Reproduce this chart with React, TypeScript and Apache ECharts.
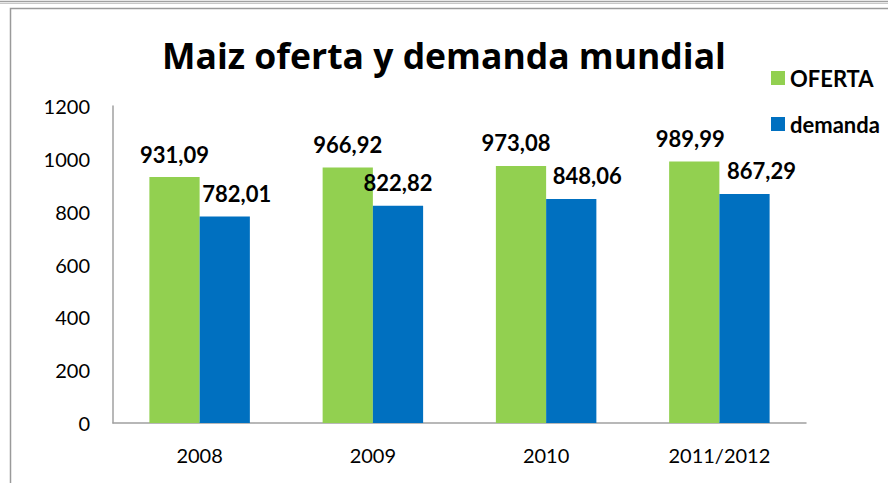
import React, { useEffect, useRef } from "react";
import * as echarts from "echarts";

const categories = ["2008", "2009", "2010", "2011/2012"];
const oferta = [931.09, 966.92, 973.08, 989.99];
const demanda = [782.01, 822.82, 848.06, 867.29];
const seriesNames = ["OFERTA", "demanda"];
const titleText = "Maiz oferta y demanda mundial";

const ofertaNudge = [0, 0, -5, -4];
const demandaNudge = [12, 0, 16, 17];

const fmt = (v: number) => v.toFixed(2).replace(".", ",");

export default function App() {
  const ref = useRef<HTMLDivElement>(null);
  useEffect(() => {
    const chart = echarts.init(ref.current!, null, { renderer: "svg" });
    const font = "Lato, 'Open Sans', sans-serif";
    const labelBase = {
      show: true,
      position: "top",
      distance: 12,
      color: "#000",
      fontFamily: font,
      fontWeight: "bold",
      fontSize: 22,
      formatter: (p: any) => fmt(p.value),
    };
    chart.setOption({
      animation: false,
      backgroundColor: "#fff",
      title: {
        text: titleText,
        left: 439,
        textAlign: "center",
        top: 32,
        textStyle: { fontFamily: "'Open Sans', Lato, sans-serif", fontWeight: "bold", fontSize: 35.5, color: "#000" },
      },
      legend: {
        orient: "vertical",
        left: 771,
        top: 67,
        padding: 0,
        itemWidth: 14,
        itemHeight: 14,
        itemGap: 24,
        icon: "rect",
        data: seriesNames,
        textStyle: { fontFamily: font, fontWeight: "bold", fontSize: 22, color: "#000", lineHeight: 21 },
      },
      grid: { left: 113, right: 82, top: 106, bottom: 60 },
      xAxis: {
        type: "category",
        data: categories,
        axisLine: { lineStyle: { color: "#a0a0a0", width: 1.5 } },
        axisTick: { show: false },
        axisLabel: { color: "#000", fontFamily: font, fontSize: 20, margin: 22 },
      },
      yAxis: {
        type: "value",
        min: 0,
        max: 1200,
        interval: 200,
        axisLine: { show: true, lineStyle: { color: "#a0a0a0", width: 1.5 } },
        axisTick: { show: false },
        splitLine: { show: false },
        axisLabel: { color: "#000", fontFamily: font, fontSize: 20, margin: 23, formatter: (v: number) => String(v) },
      },
      graphic: [
        { type: "line", shape: { x1: 0, y1: 1.5, x2: 888, y2: 1.5 }, style: { stroke: "#a0a0a0", lineWidth: 1.5 } },
        { type: "line", shape: { x1: 0, y1: 3.5, x2: 888, y2: 3.5 }, style: { stroke: "#c8c8c8", lineWidth: 1 } },
        { type: "polyline", shape: { points: [[10.5, 483], [10.5, 8.5], [888, 8.5]] }, style: { stroke: "#9a9a9a", lineWidth: 1.5, fill: "none" } },
      ],
      series: [
        {
          name: seriesNames[0],
          type: "bar",
          barGap: "0%",
          barCategoryGap: "42%",
          itemStyle: { color: "#92D050" },
          data: oferta.map((v, i) => ({ value: v, label: { offset: [ofertaNudge[i], 0] } })),
          label: labelBase,
        },
        {
          name: seriesNames[1],
          type: "bar",
          itemStyle: { color: "#0070C0" },
          data: demanda.map((v, i) => ({ value: v, label: { offset: [demandaNudge[i], 0] } })),
          label: labelBase,
        },
      ],
    });
    return () => chart.dispose();
  }, []);
  return <div ref={ref} style={{ position: "fixed", left: 0, top: 0, width: 888, height: 483 }} />;
}
